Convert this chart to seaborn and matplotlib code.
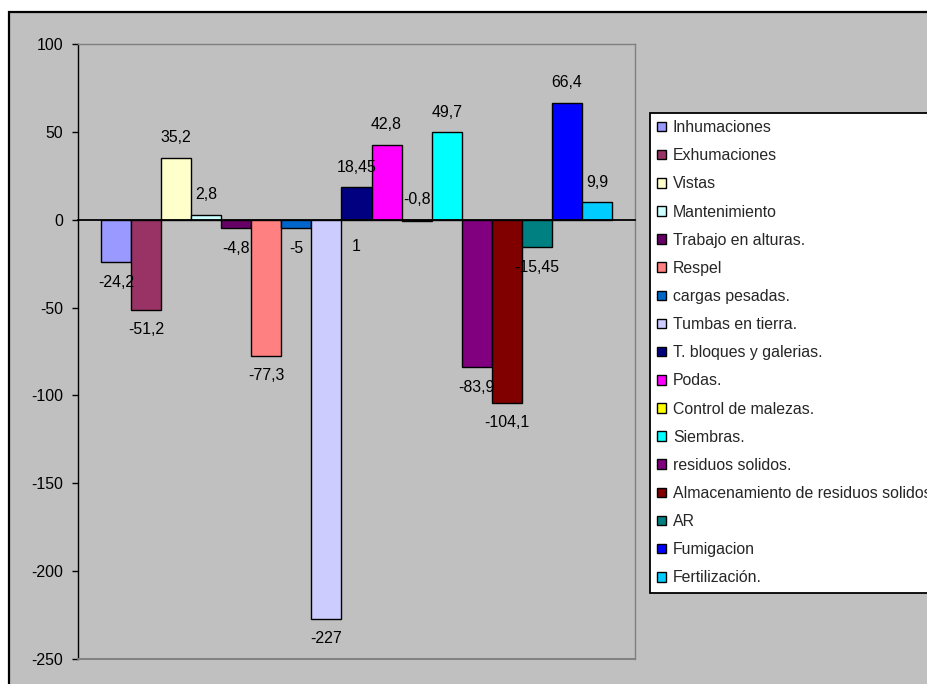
import matplotlib
matplotlib.use("Agg")
import matplotlib.pyplot as plt
from matplotlib.patches import Patch, Rectangle
import seaborn as sns
import pandas as pd

# ---- data ----
series = ["Inhumaciones", "Exhumaciones", "Vistas", "Mantenimiento",
          "Trabajo en alturas.", "Respel", "cargas pesadas.", "Tumbas en tierra.",
          "T. bloques y galerias.", "Podas.", "Control de malezas.", "Siembras.",
          "residuos solidos.", "Almacenamiento de residuos solidos", "AR",
          "Fumigacion", "Fertilización."]
values = [-24.2, -51.2, 35.2, 2.8, -4.8, -77.3, -5.0, -227.0,
          18.45, 42.8, -0.8, 49.7, -83.9, -104.1, -15.45, 66.4, 9.9]
colors = ["#9999FF", "#993366", "#FFFFCC", "#CCFFFF", "#660066", "#FF8080",
          "#0066CC", "#CCCCFF", "#000080", "#FF00FF", "#FFFF00", "#00FFFF",
          "#800080", "#800000", "#008080", "#0000FF", "#00CCFF"]
# label placement: +1 above bar end, -1 below bar end
label_side = [-1, -1, 1, 1, -1, -1, -1, -1, 1, 1, 1, 1, -1, -1, -1, 1, 1]
# stray data label shown under the "T. bloques" bar in the original
extra_label_series = "T. bloques y galerias."
extra_label_text = "1"
yticks = [-250, -200, -150, -100, -50, 0, 50, 100]

df = pd.DataFrame({"grupo": [""] * len(series), "serie": series, "valor": values})

sns.set_theme(style="white")
plt.rcParams["font.family"] = ["Liberation Sans", "DejaVu Sans"]
FS = 11.4

fig = plt.figure(figsize=(9.28, 6.84), dpi=100, facecolor="white")
# chart area background with black border (cut by the figure edges)
fig.add_artist(Rectangle((9 / 928, -0.1), 1.2, 1 - 12 / 684 + 0.1,
                         transform=fig.transFigure, facecolor="#C0C0C0",
                         edgecolor="black", linewidth=1.6, zorder=-5))

ax = fig.add_axes([78 / 928, 1 - 659 / 684, (635 - 78) / 928, (659 - 44) / 684])
ax.set_facecolor("#C0C0C0")

W = 0.8
sns.barplot(data=df, x="grupo", y="valor", hue="serie", hue_order=series,
            palette=colors, edgecolor="black", linewidth=1.0, width=W,
            legend=False, ax=ax, errorbar=None, saturation=1)

half = W / 2 * 557 / 511
ax.set_xlim(-half, half)
ax.set_ylim(-250, 100)
ax.set_yticks(yticks)
ax.set_yticklabels([str(t) for t in yticks], fontsize=FS, color="black")
ax.set_xlabel("")
ax.set_ylabel("")

# spines
for s in ["top", "right"]:
    ax.spines[s].set_color("#808080")
    ax.spines[s].set_linewidth(1.0)
ax.spines["left"].set_color("black")
ax.spines["left"].set_linewidth(1.0)
ax.spines["bottom"].set_position(("data", 0))
ax.spines["bottom"].set_color("black")
ax.spines["bottom"].set_linewidth(1.3)
ax.axhline(-250, color="#808080", linewidth=1.4, clip_on=False, zorder=5)
ax.set_xticks([-half, half])
ax.set_xticklabels(["", ""])
ax.tick_params(axis="x", direction="out", length=4, color="black", width=1)
ax.tick_params(axis="y", direction="out", length=4.3, color="black", width=1,
               pad=6.5, left=True)
ax.grid(False)

# data labels
def fmt(v):
    return f"{v:g}".replace(".", ",")

bars = [c[0] for c in ax.containers]
for bar, v, side in zip(bars, values, label_side):
    xc = bar.get_x() + bar.get_width() / 2
    yend = v if not (side > 0 and v < 0) else 0
    ax.annotate(fmt(v), (xc, yend), xytext=(0, 14.5 * side), textcoords="offset points",
                ha="center", va="center", fontsize=FS, color="black", zorder=6)
b = bars[series.index(extra_label_series)]
ax.annotate(extra_label_text, (b.get_x() + b.get_width() / 2, 0), xytext=(0, -19.5),
            textcoords="offset points", ha="center", va="center", fontsize=FS,
            color="black", zorder=6)

# legend
handles = [Patch(facecolor=c, edgecolor="black", linewidth=1.0) for c in colors]
leg = fig.legend(handles, series, loc="upper left",
                 bbox_to_anchor=(650 / 928, 1 - 113 / 684),
                 bbox_transform=fig.transFigure, fontsize=FS, frameon=True,
                 fancybox=False, edgecolor="black", facecolor="white",
                 handlelength=0.55, handleheight=0.55, handletextpad=0.45,
                 labelspacing=0.83, borderpad=0.45, borderaxespad=0, framealpha=1)
leg.get_frame().set_linewidth(1.3)

fig.savefig("out.png", dpi=100, facecolor="white")
